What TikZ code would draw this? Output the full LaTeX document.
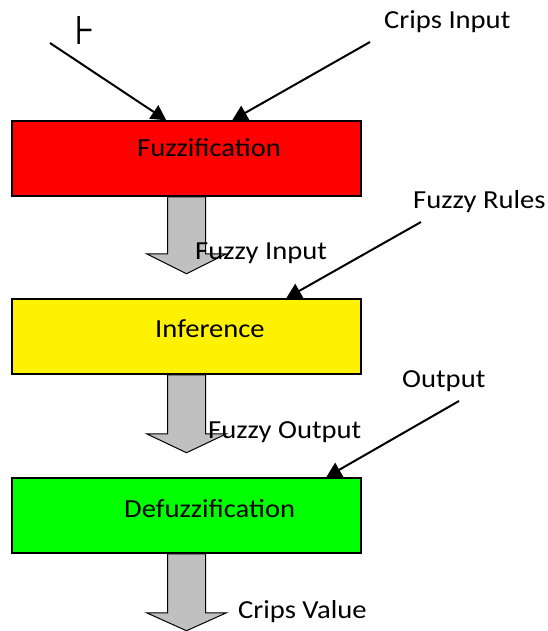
\documentclass[tikz,border=0pt]{standalone}
\usepackage{fontspec}
\setmainfont{Carlito}
\newfontfamily\symfont{DejaVu Sans}
\usetikzlibrary{arrows.meta,calc}
\definecolor{flowgray}{HTML}{C0C0C0}
\newcommand{\lbltext}[1]{\scalebox{1.1}[1]{#1}}
\begin{document}
\begin{tikzpicture}[x=1pt,y=-1pt,
  box/.style={draw=black,line width=1.5pt,minimum width=349pt,minimum height=75pt,inner sep=0pt},
  lbl/.style={font=\fontsize{26}{31}\selectfont,inner sep=0pt,text=black,anchor=base west},
  feed/.style={line width=2pt,-{Triangle[length=15pt,width=16pt]}},
  flow/.style={draw=black,fill=flowgray,line width=1pt,line join=miter}]
\useasboundingbox (0,0) rectangle (547,631);

% boxes
\node[box,fill=red] (fuzz) at (186.5,158.5) {};
\node[box,fill=yellow] (infer) at (186.5,336.5) {};
\node[box,fill=green] (defuzz) at (186.5,515.5) {};

% box texts
\node[lbl] (tfuzz) at (137,157) {\lbltext{Fuzzification}};
\node[lbl] (tinfer) at (155,337) {\lbltext{Inference}};
\node[lbl] (tdefuzz) at (124,517) {\lbltext{Defuzzification}};

% flow arrows
\draw[flow] ($(fuzz.south)+(-19,0)$) -- ++(0,57) -- ++(-21,0) -- ++(40,20) -- ++(40,-20) -- ++(-21,0) -- ++(0,-57) -- cycle;
\draw[flow] ($(infer.south)+(-19,0)$) -- ++(0,59) -- ++(-21,0) -- ++(40,19) -- ++(40,-19) -- ++(-21,0) -- ++(0,-59) -- cycle;
\draw[flow] ($(defuzz.south)+(-19,0)$) -- ++(0,59) -- ++(-21,0) -- ++(40,18) -- ++(40,-18) -- ++(-21,0) -- ++(0,-59) -- cycle;

% free ends of the input arrows
\coordinate (inA) at (50,43);
\coordinate (inB) at (370,42);
\coordinate (rulesEnd) at (421,222);
\coordinate (outEnd) at (459,401);

\draw[feed] (inA) -- ($(fuzz.north west)+(155,0)$);
\draw[feed] (inB) -- ($(fuzz.north west)+(221,0)$);
\draw[feed] (rulesEnd) -- ($(infer.north west)+(275,0)$);
\draw[feed] (outEnd) -- ($(defuzz.north west)+(315,0)$);

% labels
\node[inner sep=0pt,anchor=base west,font=\symfont\fontsize{40}{44}\selectfont] (glyph) at (74,45) {⊦};
\node[lbl] (crin) at (384,29) {\lbltext{Crips Input}};
\node[lbl] (frules) at (413,208) {\lbltext{Fuzzy Rules}};
\node[lbl] (fin) at (195,259) {\lbltext{Fuzzy Input}};
\node[lbl] (outl) at (402,387) {\lbltext{Output}};
\node[lbl] (fout) at (208,438) {\lbltext{Fuzzy Output}};
\node[lbl] (crval) at (238,618) {\lbltext{Crips Value}};
\end{tikzpicture}
\end{document}
